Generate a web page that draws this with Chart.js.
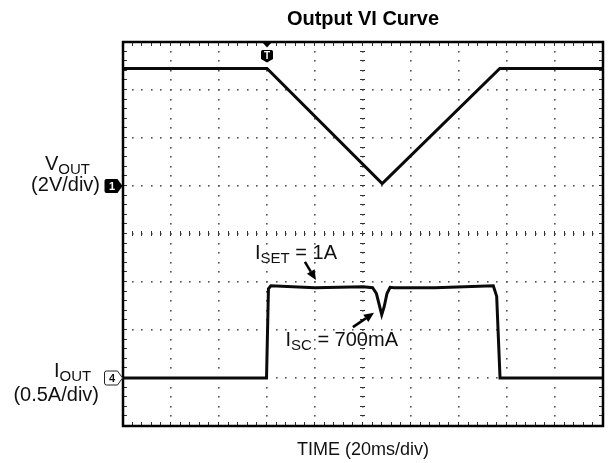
<!DOCTYPE html>
<html>
<head>
<meta charset="utf-8">
<script src="https://cdn.jsdelivr.net/npm/chart.js@4/dist/chart.umd.min.js"></script>
<style>
html,body{margin:0;padding:0;background:#fff;}
#wrap{position:relative;width:609px;height:463px;overflow:hidden;}
#c{display:block;}
.lbl{position:absolute;font-family:"Liberation Sans",Arial,sans-serif;font-size:20px;line-height:20px;color:#111;white-space:nowrap;}
.lbl sub{font-size:15px;vertical-align:baseline;position:relative;top:4px;}
</style>
</head>
<body>
<div id="wrap">
<canvas id="c" width="609" height="463"></canvas>
<div class="lbl" style="left:45px;top:153px;">V<sub>OUT</sub></div>
<div class="lbl" style="right:509px;top:174px;">(2V/div)</div>
<div class="lbl" style="left:54px;top:360px;">I<sub>OUT</sub></div>
<div class="lbl" style="right:510px;top:384px;">(0.5A/div)</div>
<div class="lbl" style="right:272px;top:242px;">I<sub>SET</sub> = 1A</div>
<div class="lbl" style="right:211px;top:329px;">I<sub>SC</sub> = 700mA</div>
</div>
<script>
// ---- axis settings (oscilloscope graticule) ----
const timeMin = 0, timeMax = 200, timeDiv = 20;   // ms, 20 ms/div
const voltMin = -10, voltMax = 6, voltDiv = 2;    // V, 2 V/div (CH1 ground 3 div below top)
const ampMin = -0.5, ampMax = 3.5, ampDiv = 0.5;  // A, 0.5 A/div (CH4 ground 1 div above bottom)

// ---- CH1: V_OUT (V) vs time (ms) ----
const voutTime = [0, 60, 108, 157, 200];
const voutVolts = [4.9, 4.9, 0.1, 4.9, 4.9];

// ---- CH4: I_OUT (A) vs time (ms) ----
const ioutTime = [0, 59.8, 60.6, 61.6, 80, 100, 104, 105.6, 106.8, 107.8, 108.8, 110, 111.3, 113, 130, 154.3, 155.7, 157.1, 200];
const ioutAmps = [0, 0, 0.93, 0.96, 0.94, 0.95, 0.94, 0.88, 0.76, 0.66, 0.74, 0.88, 0.945, 0.94, 0.94, 0.96, 0.85, 0, 0];

// ---- annotation arrows (data coordinates: ms, A) ----
const arrowSet = {from: [75.8, 1.21], to: [80.4, 1.02]};
const arrowSc = {from: [95.8, 0.53], to: [104.6, 0.68]};
const triggerTime = 60;

const toXY = (xs, ys) => xs.map((v, i) => ({x: v, y: ys[i]}));

function drawArrow(ctx, x1, y1, x2, y2) {
  const ang = Math.atan2(y2 - y1, x2 - x1);
  const hl = 10, hw = 4.5;
  const bx = x2 - hl * Math.cos(ang), by = y2 - hl * Math.sin(ang);
  ctx.beginPath();
  ctx.moveTo(x1, y1);
  ctx.lineTo(bx, by);
  ctx.stroke();
  ctx.beginPath();
  ctx.moveTo(x2, y2);
  ctx.lineTo(bx + hw * Math.sin(ang), by - hw * Math.cos(ang));
  ctx.lineTo(bx - hw * Math.sin(ang), by + hw * Math.cos(ang));
  ctx.closePath();
  ctx.fill();
}

function chMarker(ctx, right, cy, filled, label) {
  const l = right - 18, r = right, h = 7;
  ctx.beginPath();
  ctx.moveTo(l + 2, cy - h);
  ctx.lineTo(r - 5, cy - h);
  ctx.lineTo(r, cy);
  ctx.lineTo(r - 5, cy + h);
  ctx.lineTo(l + 2, cy + h);
  ctx.quadraticCurveTo(l, cy + h, l, cy + h - 2);
  ctx.lineTo(l, cy - h + 2);
  ctx.quadraticCurveTo(l, cy - h, l + 2, cy - h);
  ctx.closePath();
  if (filled) {
    ctx.fillStyle = '#000';
    ctx.fill();
  } else {
    ctx.fillStyle = '#fff';
    ctx.fill();
    ctx.lineWidth = 1;
    ctx.strokeStyle = '#222';
    ctx.stroke();
  }
  ctx.fillStyle = filled ? '#fff' : '#111';
  ctx.font = 'bold 11px "Liberation Sans", Arial, sans-serif';
  ctx.textAlign = 'center';
  ctx.textBaseline = 'middle';
  ctx.fillText(label, l + 7.5, cy + 0.5);
}

const scopePlugin = {
  id: 'scope',
  beforeDatasetsDraw(chart) {
    const {ctx, chartArea: a, scales: {x, yV}} = chart;
    const nx = Math.round((timeMax - timeMin) / timeDiv);
    const ny = Math.round((voltMax - voltMin) / voltDiv);
    const sub = 5;
    ctx.save();
    ctx.fillStyle = '#555';
    const dot = (px, py) => ctx.fillRect(Math.round(px) - 1, Math.round(py) - 1, 1.6, 1.6);
    for (let i = 1; i < nx; i++) {
      const px = x.getPixelForValue(timeMin + i * timeDiv);
      for (let j = 1; j < ny * sub; j++) dot(px, yV.getPixelForValue(voltMin + j * voltDiv / sub));
    }
    for (let j = 1; j < ny; j++) {
      const py = yV.getPixelForValue(voltMin + j * voltDiv);
      for (let i = 1; i < nx * sub; i++) dot(x.getPixelForValue(timeMin + i * timeDiv / sub), py);
    }
    ctx.strokeStyle = '#333';
    ctx.lineWidth = 1;
    const cx = Math.round(x.getPixelForValue((timeMin + timeMax) / 2)) - 0.5;
    const cy = Math.round(yV.getPixelForValue((voltMin + voltMax) / 2)) - 0.5;
    ctx.beginPath();
    for (let i = 1; i < nx * sub; i++) {
      const px = Math.round(x.getPixelForValue(timeMin + i * timeDiv / sub)) - 0.5;
      ctx.moveTo(px, cy - 2.5); ctx.lineTo(px, cy + 2.5);
      ctx.moveTo(px, a.top); ctx.lineTo(px, a.top + 4);
      ctx.moveTo(px, a.bottom - 4); ctx.lineTo(px, a.bottom);
    }
    for (let j = 1; j < ny * sub; j++) {
      const py = Math.round(yV.getPixelForValue(voltMin + j * voltDiv / sub)) - 0.5;
      ctx.moveTo(cx - 2.5, py); ctx.lineTo(cx + 2.5, py);
      ctx.moveTo(a.left, py); ctx.lineTo(a.left + 4, py);
      ctx.moveTo(a.right - 4, py); ctx.lineTo(a.right, py);
    }
    ctx.stroke();
    ctx.restore();
  },
  afterDatasetsDraw(chart) {
    const {ctx, chartArea: a, scales: {x, yV, yI}} = chart;
    ctx.save();
    // frame
    ctx.strokeStyle = '#000';
    ctx.lineWidth = 2.5;
    ctx.strokeRect(a.left, a.top, a.right - a.left, a.bottom - a.top);
    // channel ground markers
    chMarker(ctx, a.left - 0.5, yV.getPixelForValue(0), true, '1');
    chMarker(ctx, a.left - 0.5, yI.getPixelForValue(0), false, '4');
    // trigger marker
    const tx = x.getPixelForValue(triggerTime);
    ctx.fillStyle = '#000';
    ctx.beginPath();
    ctx.moveTo(tx - 5, a.top);
    ctx.lineTo(tx + 5, a.top);
    ctx.lineTo(tx, a.top + 5.5);
    ctx.closePath();
    ctx.fill();
    ctx.beginPath();
    const tt = a.top + 8, tb = a.top + 19;
    ctx.moveTo(tx - 6, tt + 1.5);
    ctx.quadraticCurveTo(tx - 6, tt, tx - 4.5, tt);
    ctx.lineTo(tx + 4.5, tt);
    ctx.quadraticCurveTo(tx + 6, tt, tx + 6, tt + 1.5);
    ctx.lineTo(tx + 6, tb - 2);
    ctx.lineTo(tx, tb + 1.5);
    ctx.lineTo(tx - 6, tb - 2);
    ctx.closePath();
    ctx.fill();
    ctx.fillStyle = '#fff';
    ctx.font = 'bold 10px "Liberation Sans", Arial, sans-serif';
    ctx.textAlign = 'center';
    ctx.textBaseline = 'middle';
    ctx.fillText('T', tx, tt + 6);
    // annotation arrows
    ctx.fillStyle = '#000';
    ctx.strokeStyle = '#000';
    ctx.lineWidth = 2.5;
    for (const ar of [arrowSet, arrowSc]) {
      drawArrow(ctx, x.getPixelForValue(ar.from[0]), yI.getPixelForValue(ar.from[1]),
                     x.getPixelForValue(ar.to[0]), yI.getPixelForValue(ar.to[1]));
    }
    ctx.restore();
  }
};

new Chart(document.getElementById('c'), {
  type: 'line',
  data: {
    datasets: [
      {label: 'VOUT', data: toXY(voutTime, voutVolts), yAxisID: 'yV',
       borderColor: '#0a0a0a', borderWidth: 3, pointRadius: 0, tension: 0, fill: false},
      {label: 'IOUT', data: toXY(ioutTime, ioutAmps), yAxisID: 'yI',
       borderColor: '#0a0a0a', borderWidth: 3, pointRadius: 0, tension: 0, fill: false}
    ]
  },
  options: {
    responsive: false,
    animation: false,
    events: [],
    layout: {padding: {left: 123, right: 6, top: 0, bottom: 0}, autoPadding: false},
    plugins: {
      legend: {display: false},
      tooltip: {enabled: false},
      title: {
        display: true, text: 'Output VI Curve', color: '#000',
        font: {family: '"Liberation Sans", Arial, sans-serif', size: 20, weight: 'bold'},
        padding: {top: 7, bottom: 11}
      }
    },
    scales: {
      x: {
        type: 'linear', min: timeMin, max: timeMax,
        ticks: {display: false, stepSize: timeDiv},
        grid: {display: false, drawTicks: false, tickLength: 0},
        border: {display: false},
        title: {
          display: true, text: 'TIME (20ms/div)', color: '#111',
          font: {family: '"Liberation Sans", Arial, sans-serif', size: 18},
          padding: {top: 13.2, bottom: 2.2}
        }
      },
      yV: {type: 'linear', position: 'left', min: voltMin, max: voltMax, display: false, ticks: {stepSize: voltDiv}},
      yI: {type: 'linear', position: 'right', min: ampMin, max: ampMax, display: false, ticks: {stepSize: ampDiv}}
    }
  },
  plugins: [scopePlugin]
});
</script>
</body>
</html>
